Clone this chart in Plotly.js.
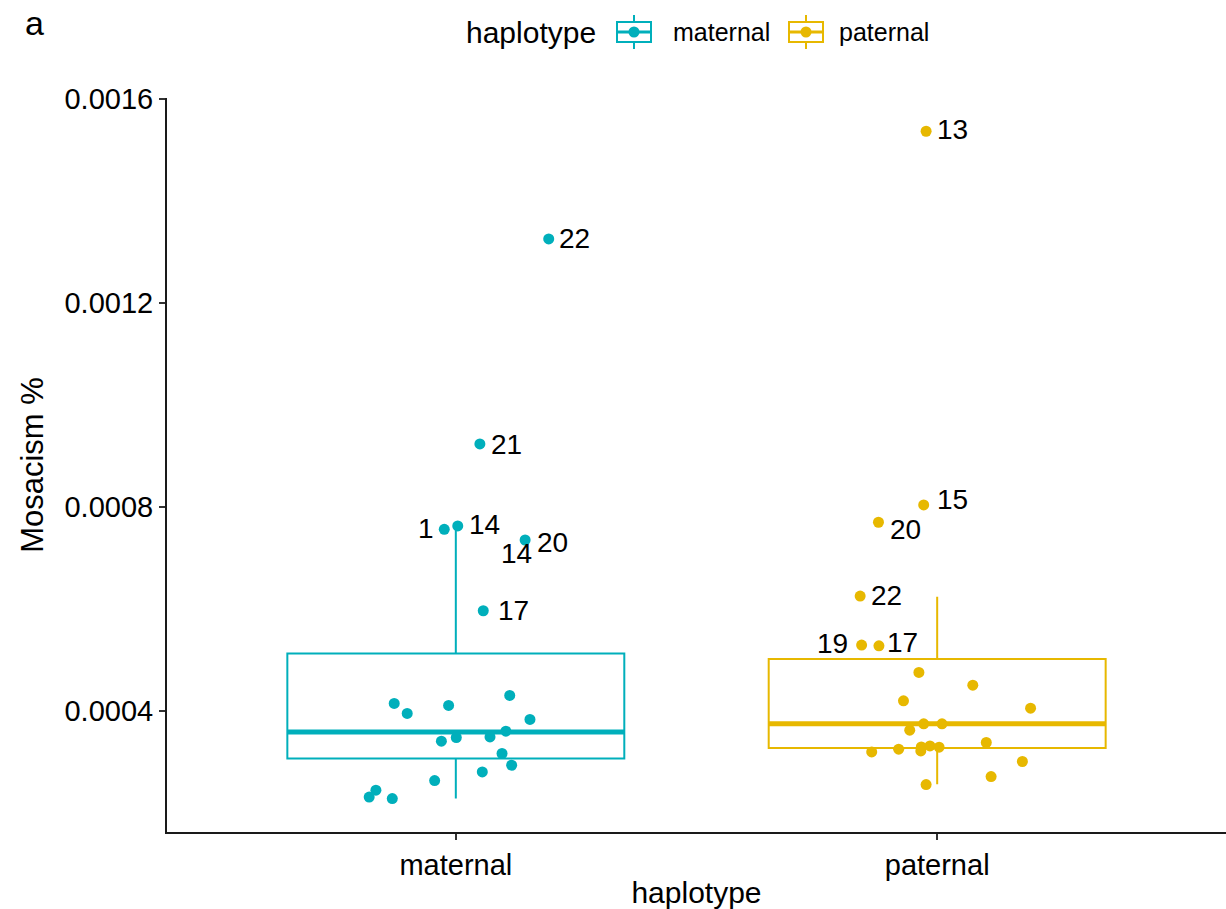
<!DOCTYPE html>
<html>
<head>
<meta charset="utf-8">
<script src="https://cdn.plot.ly/plotly-3.0.1.min.js"></script>
<style>html,body{margin:0;padding:0;background:#fff;}#chart{width:1226px;height:909px;}</style>
</head>
<body>
<div id="chart"></div>
<script>
// ---- data ----
const categories = ['maternal', 'paternal'];
const tickValues = [0.0004, 0.0008, 0.0012, 0.0016];
const tickLabels = ['0.0004', '0.0008', '0.0012', '0.0016'];

// box statistics per haplotype
const boxQ1 = [0.0003066, 0.0003274];
const boxMedian = [0.0003588, 0.0003745];
const boxQ3 = [0.0005127, 0.0005015];
const boxLowerWhisker = [0.000228, 0.0002561];
const boxUpperWhisker = [0.0007625, 0.0006238];

// maternal points (mosaicism %), jitter offsets, labels
const maternalValues = [0.0004145, 0.0003949, 0.0004106, 0.0004302, 0.0003831, 0.0003602, 0.000349, 0.0003478,
  0.0003405, 0.0003164, 0.0002934, 0.0002803, 0.0002634, 0.0002444, 0.000231, 0.000228,
  0.0013252, 0.0009234, 0.000756, 0.0007625, 0.000735, 0.0005963];
const maternalJitter = [-0.128, -0.101, -0.015, 0.112, 0.154, 0.104, 0.071, 0.001,
  -0.030, 0.096, 0.116, 0.055, -0.044, -0.166, -0.180, -0.132,
  0.193, 0.050, -0.024, 0.004, 0.144, 0.057];
const maternalLabels = ['', '', '', '', '', '', '', '', '', '', '', '', '', '', '', '',
  '22', '21', '1', '14', '20', '17'];

// paternal points
const paternalValues = [0.0004754, 0.0004504, 0.0004196, 0.0004053, 0.0003745, 0.0003745, 0.0003621, 0.000338,
  0.0003195, 0.0003248, 0.0003215, 0.0003293, 0.0003313, 0.0003288, 0.0003007, 0.0002712, 0.0002555,
  0.0015364, 0.0008037, 0.0007698, 0.0006251, 0.000529, 0.0005276];
const paternalJitter = [-0.038, 0.074, -0.070, 0.194, -0.028, 0.010, -0.057, 0.102,
  -0.136, -0.080, -0.034, -0.033, -0.015, 0.004, 0.177, 0.112, -0.023,
  -0.023, -0.028, -0.122, -0.160, -0.157, -0.121];
const paternalLabels = ['', '', '', '', '', '', '', '', '', '', '', '', '', '', '', '', '',
  '13', '15', '20', '22', '19', '17'];

// ---- styling ----
const colors = ['#00AFBB', '#E7B800'];
const FONT = 'Liberation Sans, Arial, Helvetica, sans-serif';
const W = 1226, H = 909;
const M = {l: 167, r: 0, t: 98, b: 77};
const BOXW = 0.7;

// label offsets in screen px (dx right, dy down), repelled-label look
const labelOffsets = {
  maternal: {'22': [26, 0], '21': [27, 1], '1': [-18, -1], '14': [27, -1], '20': [27, 2], '17': [30, 0]},
  paternal: {'13': [26, -2], '15': [29, -5], '20': [27, 7], '22': [26, -1], '19': [-29, -2], '17': [24, -3]}
};
// extra repelled "14" label sitting under the maternal "20" point
const extraLabels = [{group: 'maternal', anchorLabel: '20', text: '14', dx: -9, dy: 13}];

const groups = [
  {name: categories[0], values: maternalValues, jitter: maternalJitter, labels: maternalLabels},
  {name: categories[1], values: paternalValues, jitter: paternalJitter, labels: paternalLabels}
];

const traces = [];
const annotations = [];

groups.forEach((g, i) => {
  const xc = i + 1;
  traces.push({
    type: 'box', name: g.name, x: [xc],
    q1: [boxQ1[i]], median: [boxMedian[i]], q3: [boxQ3[i]],
    lowerfence: [boxLowerWhisker[i]], upperfence: [boxUpperWhisker[i]],
    width: BOXW, whiskerwidth: 0, boxpoints: false,
    line: {color: colors[i], width: 2}, fillcolor: 'rgba(255,255,255,0)',
    showlegend: false, hoverinfo: 'skip'
  });
  // thicker median line (ggplot fatten)
  traces.push({
    type: 'scatter', mode: 'lines',
    x: [xc - BOXW / 2, xc + BOXW / 2], y: [boxMedian[i], boxMedian[i]],
    line: {color: colors[i], width: 5}, showlegend: false, hoverinfo: 'skip'
  });
  traces.push({
    type: 'scatter', mode: 'markers', name: g.name,
    x: g.values.map((v, k) => xc + g.jitter[k]), y: g.values,
    marker: {color: colors[i], size: 11}, showlegend: false
  });
  g.values.forEach((v, k) => {
    const lab = g.labels[k];
    if (!lab) return;
    const off = labelOffsets[g.name][lab] || [26, 0];
    annotations.push({
      x: xc + g.jitter[k], y: v, xref: 'x', yref: 'y', text: lab, showarrow: false,
      xshift: off[0], yshift: -off[1], xanchor: 'center', yanchor: 'middle',
      font: {family: FONT, size: 28, color: '#000'}
    });
  });
});

extraLabels.forEach(e => {
  const gi = categories.indexOf(e.group);
  const g = groups[gi];
  const k = g.labels.indexOf(e.anchorLabel);
  annotations.push({
    x: gi + 1 + g.jitter[k], y: g.values[k], xref: 'x', yref: 'y', text: e.text, showarrow: false,
    xshift: e.dx, yshift: -e.dy, xanchor: 'center', yanchor: 'middle',
    font: {family: FONT, size: 28, color: '#000'}
  });
});

// helpers to place legend items in pixel terms
const pw = W - M.l - M.r, ph = H - M.t - M.b;
const px = p => (p - M.l) / pw;
const py = p => (H - M.b - p) / ph;

// panel tag
annotations.push({xref: 'paper', yref: 'paper', x: px(23), y: py(23), xanchor: 'left', yanchor: 'middle',
  text: 'a', showarrow: false, font: {family: FONT, size: 34, color: '#000'}});
// legend title
annotations.push({xref: 'paper', yref: 'paper', x: px(464), y: py(33), xanchor: 'left', yanchor: 'middle',
  text: 'haplotype', showarrow: false, font: {family: FONT, size: 30, color: '#000'}});

const shapes = [];
const legendItems = [{label: categories[0], iconX: 634, textX: 671}, {label: categories[1], iconX: 806, textX: 837}];
legendItems.forEach((it, i) => {
  const c = colors[i];
  const cx = it.iconX, cy = 32;
  shapes.push({type: 'line', xref: 'paper', yref: 'paper', x0: px(cx), x1: px(cx), y0: py(cy - 17), y1: py(cy + 17), line: {color: c, width: 2}});
  shapes.push({type: 'rect', xref: 'paper', yref: 'paper', x0: px(cx - 17), x1: px(cx + 17), y0: py(cy - 10), y1: py(cy + 10), line: {color: c, width: 2}, fillcolor: '#fff'});
  shapes.push({type: 'line', xref: 'paper', yref: 'paper', x0: px(cx - 17), x1: px(cx + 17), y0: py(cy), y1: py(cy), line: {color: c, width: 3}});
  shapes.push({type: 'circle', xref: 'paper', yref: 'paper', x0: px(cx - 5.5), x1: px(cx + 5.5), y0: py(cy - 5.5), y1: py(cy + 5.5), line: {color: c, width: 0}, fillcolor: c});
  annotations.push({xref: 'paper', yref: 'paper', x: px(it.textX), y: py(cy), xanchor: 'left', yanchor: 'middle',
    text: it.label, showarrow: false, font: {family: FONT, size: 25, color: '#000'}});
});

const layout = {
  width: W, height: H, margin: M,
  paper_bgcolor: '#fff', plot_bgcolor: '#fff',
  showlegend: false, boxmode: 'overlay',
  font: {family: FONT, color: '#000'},
  xaxis: {
    range: [0.4, 2.6], tickvals: [1, 2], ticktext: categories,
    showgrid: false, zeroline: false, showline: true, linecolor: '#1a1a1a', linewidth: 2,
    ticks: 'outside', ticklen: 6, tickwidth: 1.5, tickcolor: '#333',
    tickfont: {family: FONT, size: 29, color: '#000'},
    title: {text: 'haplotype', font: {family: FONT, size: 30, color: '#000'}, standoff: 6},
    automargin: false
  },
  yaxis: {
    range: [0.0001625, 0.0016016], tickvals: tickValues, ticktext: tickLabels,
    showgrid: false, zeroline: false, showline: true, linecolor: '#1a1a1a', linewidth: 2,
    ticks: 'outside', ticklen: 6, tickwidth: 1.5, tickcolor: '#333',
    tickfont: {family: FONT, size: 29, color: '#000'},
    title: {text: 'Mosacism %', font: {family: FONT, size: 31, color: '#000'}, standoff: 12},
    automargin: false
  },
  shapes: shapes,
  annotations: annotations
};

Plotly.newPlot('chart', traces, layout, {displayModeBar: false, staticPlot: true});
</script>
</body>
</html>
